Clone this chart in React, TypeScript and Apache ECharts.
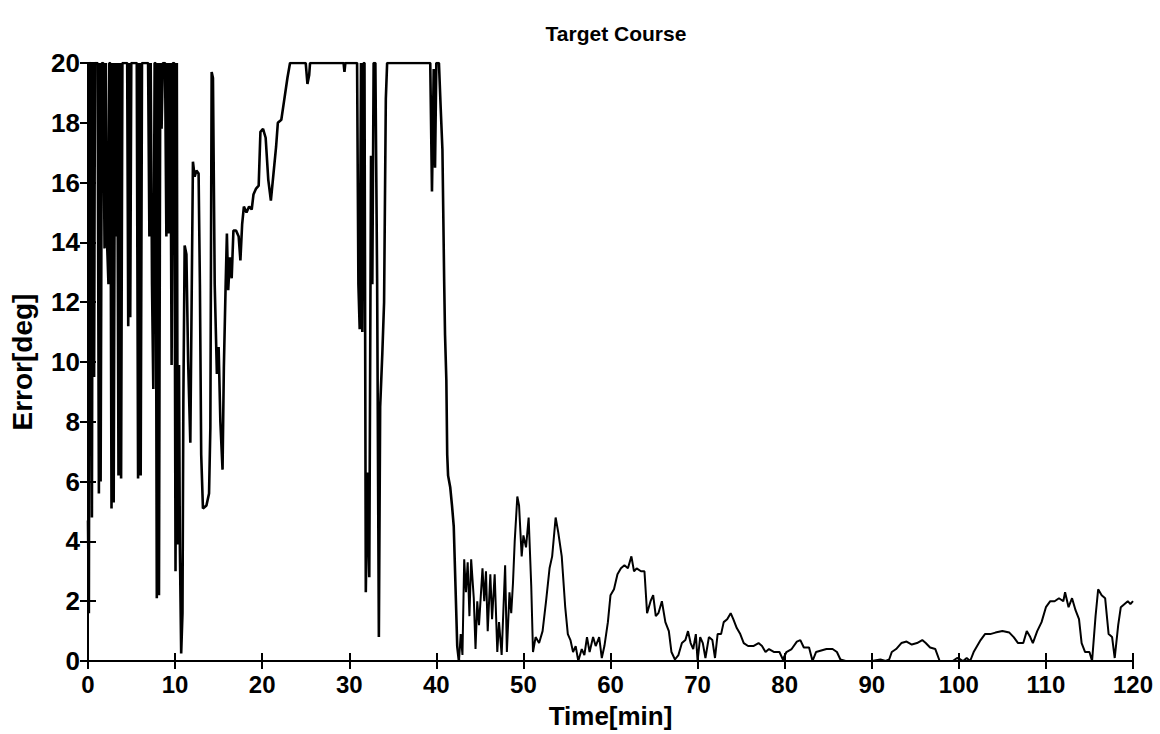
import React, { useEffect, useRef } from "react";
import * as echarts from "echarts";

// Time axis ticks [min] and error axis ticks [deg]
const timeTicks = [0, 10, 20, 30, 40, 50, 60, 70, 80, 90, 100, 110, 120];
const errorTicks = [0, 2, 4, 6, 8, 10, 12, 14, 16, 18, 20];

const chartTitle = "Target Course";
const xName = "Time[min]";
const yName = "Error[deg]";

// Heading error samples: [time (min), error (deg)] — saturated at 20
const transientSamples: [number, number][] = [
  [0, 4.7], [0.1, 1.6], [0.2, 20], [0.3, 20], [0.45, 4.8], [0.55, 20], [0.7, 9.5], [0.8, 20],
  [1.1, 20], [1.25, 5.6], [1.35, 20], [1.45, 6.0], [1.6, 20], [1.75, 20], [1.9, 13.8], [2.05, 20],
  [2.2, 13.9], [2.35, 12.6], [2.45, 20], [2.55, 20], [2.7, 5.1], [2.85, 20], [2.95, 5.3], [3.1, 20],
  [3.2, 14.2], [3.35, 20], [3.5, 6.2], [3.65, 20], [3.8, 6.1], [3.95, 20], [4.5, 20], [4.62, 11.2],
  [4.75, 20], [4.85, 11.5], [4.97, 20], [5.6, 20], [5.75, 6.1], [5.9, 20], [6.05, 6.2], [6.2, 20],
  [6.9, 20], [7.05, 14.2], [7.2, 20], [7.35, 12.6], [7.5, 9.1], [7.65, 20], [7.75, 20], [7.9, 2.1],
  [8.05, 20], [8.15, 2.2], [8.3, 20], [8.45, 17.8], [8.6, 20], [8.85, 20], [9.0, 14.2], [9.15, 20],
  [9.3, 14.3], [9.45, 20], [9.6, 9.9], [9.75, 20], [9.9, 20], [10.05, 3.0], [10.2, 20],
  [10.3, 3.9], [10.45, 9.9], [10.55, 3.8], [10.7, 0.25], [10.85, 1.6], [10.95, 8.7],
  [11.1, 13.9], [11.3, 13.6], [11.5, 10.0], [11.75, 7.3], [11.9, 12.0], [12.05, 16.7], [12.25, 16.2],
  [12.45, 16.4], [12.7, 16.3], [12.85, 12.6], [13.0, 6.9], [13.2, 5.1], [13.6, 5.2], [13.9, 5.6],
  [14.05, 7.8], [14.2, 19.7], [14.35, 19.5], [14.55, 12.6], [14.8, 9.6], [15.0, 10.5], [15.2, 8.0],
  [15.45, 6.4], [15.6, 9.8], [15.8, 12.5], [15.95, 14.3], [16.1, 12.4], [16.3, 13.5], [16.5, 12.8],
  [16.7, 14.4], [17.0, 14.4], [17.3, 14.2], [17.5, 13.4], [17.7, 14.6], [17.9, 15.2], [18.2, 15.0],
  [18.5, 15.2], [18.8, 15.1], [19.0, 15.6], [19.3, 15.8], [19.6, 15.9], [19.8, 17.7], [20.1, 17.8],
  [20.4, 17.5], [20.7, 16.1], [21.0, 15.4], [21.3, 16.3], [21.6, 17.2], [21.8, 18.0], [22.2, 18.1],
  [22.5, 18.7], [22.9, 19.5], [23.2, 20], [25.0, 20], [25.2, 19.3], [25.4, 19.6], [25.5, 20],
  [29.35, 20], [29.45, 19.7], [29.55, 20], [30.9, 20], [31.05, 12.6], [31.2, 11.1], [31.35, 20],
  [31.5, 11.0], [31.65, 20], [31.75, 20], [31.9, 2.3], [32.1, 6.3], [32.3, 2.8], [32.5, 16.9],
  [32.65, 12.6], [32.8, 20], [33.0, 20], [33.2, 12.8], [33.4, 0.8], [33.55, 8.5], [33.8, 10.3],
  [34.0, 12.0], [34.2, 18.8], [34.35, 20], [39.3, 20], [39.5, 15.7], [39.7, 19.8], [39.85, 16.5],
  [40.0, 20], [40.3, 20], [40.5, 18.5], [40.7, 17.1], [40.9, 12.7], [41.0, 10.9], [41.15, 9.4],
  [41.25, 6.9], [41.35, 6.2], [41.6, 5.8], [41.8, 5.2], [42.0, 4.5], [42.2, 2.5], [42.4, 0.5],
  [42.6, 0.0],
];

const settlingSamples: [number, number][] = [
  [42.6, 0.0], [42.8, 0.9], [43.0, 0.2], [43.2, 3.4], [43.4, 2.3], [43.6, 3.3], [43.8, 1.5], [44.0, 3.4],
  [44.3, 2.1], [44.5, 0.4], [44.7, 2.0], [44.9, 1.2], [45.3, 3.1], [45.5, 2.0], [45.7, 3.0],
  [45.9, 1.0], [46.2, 2.9], [46.4, 1.4], [46.7, 2.9], [47.0, 0.3], [47.2, 1.3], [47.5, 0.2],
  [47.9, 3.2], [48.1, 0.3], [48.4, 2.3], [48.6, 1.6], [48.8, 2.6], [49.0, 4.0], [49.3, 5.5],
  [49.5, 5.2], [49.8, 3.5], [50.0, 4.2], [50.3, 3.8], [50.6, 4.8], [50.9, 2.5], [51.1, 0.3],
  [51.4, 0.8], [51.8, 0.6], [52.2, 1.0], [52.6, 2.0], [53.0, 3.1], [53.3, 3.5], [53.7, 4.8],
  [54.0, 4.3], [54.4, 3.5], [54.8, 1.8], [55.1, 0.9], [55.4, 0.7], [55.7, 0.3], [56.0, 0.5],
  [56.3, 0.0], [56.7, 0.4], [57.0, 0.2], [57.3, 0.8], [57.6, 0.3], [58.0, 0.8], [58.3, 0.5],
  [58.7, 0.8], [59.0, 0.1], [59.3, 0.5], [59.7, 1.3], [60.0, 2.2], [60.4, 2.4], [60.8, 2.9],
  [61.2, 3.1], [61.6, 3.2], [62.0, 3.1], [62.4, 3.5], [62.7, 3.0], [63.0, 3.1], [63.5, 3.0],
  [63.9, 3.0], [64.2, 1.6], [64.6, 2.0], [64.9, 2.2], [65.2, 1.5], [65.5, 1.6], [65.9, 2.0],
  [66.3, 1.3], [66.7, 1.0], [67.0, 0.3], [67.4, 0.05], [67.8, 0.2], [68.2, 0.6], [68.6, 0.7],
  [68.9, 1.0], [69.2, 0.6], [69.5, 0.4], [69.8, 0.9], [70.0, 0.0], [70.3, 0.8], [70.6, 0.6],
  [70.9, 0.1], [71.3, 0.8], [71.7, 0.7], [72.0, 0.1], [72.3, 0.9], [72.7, 0.9], [73.0, 1.3],
  [73.4, 1.4], [73.8, 1.6], [74.1, 1.4], [74.5, 1.1], [74.9, 0.9], [75.3, 0.6], [75.8, 0.5],
  [76.4, 0.5], [77.0, 0.6], [77.4, 0.5], [77.8, 0.3], [78.2, 0.4], [78.8, 0.3], [79.4, 0.3],
  [79.8, 0.05], [80.2, 0.3], [80.8, 0.4], [81.4, 0.65], [81.8, 0.7], [82.2, 0.45], [82.8, 0.45],
  [83.2, 0.0], [83.6, 0.3], [84.2, 0.35], [84.8, 0.4], [85.5, 0.4], [86.0, 0.3], [86.4, 0.05],
  [87.0, 0.0], [88.0, 0.0], [89.0, 0.0], [90.0, 0.0], [91.0, 0.05], [91.6, 0.0], [92.0, 0.05],
  [92.3, 0.3], [92.8, 0.4], [93.4, 0.6], [94.0, 0.65], [94.6, 0.55], [95.2, 0.6], [95.8, 0.7],
  [96.2, 0.6], [96.7, 0.45], [97.3, 0.4], [97.8, 0.0], [98.5, 0.0], [99.3, 0.0], [99.8, 0.1],
  [100.2, 0.05], [100.5, 0.0], [100.9, 0.1], [101.3, 0.0], [101.7, 0.3], [102.1, 0.5],
  [102.5, 0.7], [103.0, 0.9], [103.6, 0.9], [104.2, 0.95], [105.0, 1.0], [105.8, 0.95],
  [106.3, 0.8], [106.8, 0.6], [107.4, 0.6], [107.8, 1.0], [108.2, 0.8], [108.5, 0.6],
  [109.0, 1.0], [109.5, 1.3], [110.0, 1.8], [110.5, 2.0], [111.0, 2.0], [111.5, 2.1],
  [112.0, 2.0], [112.2, 2.3], [112.6, 1.8], [113.0, 2.1], [113.4, 1.7], [113.8, 1.4],
  [114.1, 0.6], [114.5, 0.3], [115.0, 0.3], [115.3, 0.0], [115.7, 1.5], [116.0, 2.4],
  [116.4, 2.2], [116.8, 2.1], [117.2, 0.9], [117.6, 0.8], [117.9, 0.1], [118.3, 1.2],
  [118.6, 1.8], [119.0, 1.9], [119.4, 2.0], [119.7, 1.9], [120.0, 2.0],
];

const FONT = "'Liberation Sans', Arial, Helvetica, sans-serif";

export default function App() {
  const ref = useRef<HTMLDivElement>(null);

  useEffect(() => {
    if (!ref.current) return;
    const chart = echarts.init(ref.current, null, { renderer: "svg" });
    const xMin = timeTicks[0];
    const xMax = timeTicks[timeTicks.length - 1];
    const xStep = timeTicks[1] - timeTicks[0];
    const yMin = errorTicks[0];
    const yMax = errorTicks[errorTicks.length - 1];
    const yStep = errorTicks[1] - errorTicks[0];

    const axisLine = { show: true, lineStyle: { color: "#000", width: 2 } };
    const tick = { show: true, inside: true, length: 8, lineStyle: { color: "#000", width: 2 } };

    chart.setOption({
      animation: false,
      backgroundColor: "#ffffff",
      title: {
        text: chartTitle,
        left: 611,
        top: 18,
        textAlign: "center",
        textStyle: { fontFamily: FONT, fontWeight: "bold", fontSize: 21, color: "#000" },
      },
      grid: { left: 88, right: 27, top: 63, bottom: 71, containLabel: false },
      xAxis: [
        {
          type: "value",
          position: "bottom",
          min: xMin,
          max: xMax,
          interval: xStep,
          name: xName,
          nameLocation: "middle",
          nameGap: 42,
          nameTextStyle: { fontFamily: FONT, fontWeight: "bold", fontSize: 26, color: "#000" },
          axisLine,
          axisTick: tick,
          axisLabel: { fontFamily: FONT, fontWeight: "bold", fontSize: 24, color: "#000", margin: 11 },
          splitLine: { show: false },
        },
        {
          type: "value",
          position: "top",
          min: xMin,
          max: xMax,
          interval: xStep,
          axisLine,
          axisTick: tick,
          axisLabel: { show: false },
          splitLine: { show: false },
        },
      ],
      yAxis: [
        {
          type: "value",
          position: "left",
          min: yMin,
          max: yMax,
          interval: yStep,
          name: yName,
          nameLocation: "middle",
          nameGap: 52,
          nameTextStyle: { fontFamily: FONT, fontWeight: "bold", fontSize: 28, color: "#000" },
          axisLine,
          axisTick: tick,
          axisLabel: { fontFamily: FONT, fontWeight: "bold", fontSize: 26, color: "#000", margin: 8 },
          splitLine: { show: false },
        },
        {
          type: "value",
          position: "right",
          min: yMin,
          max: yMax,
          interval: yStep,
          axisLine,
          axisTick: tick,
          axisLabel: { show: false },
          splitLine: { show: false },
        },
      ],
      series: [
        {
          type: "line",
          xAxisIndex: 0,
          yAxisIndex: 0,
          data: transientSamples,
          showSymbol: false,
          symbol: "none",
          clip: true,
          lineStyle: { color: "#000", width: 2.6 },
        },
        {
          type: "line",
          xAxisIndex: 0,
          yAxisIndex: 0,
          data: settlingSamples,
          showSymbol: false,
          symbol: "none",
          clip: true,
          lineStyle: { color: "#000", width: 2 },
        },
      ],
    });

    return () => chart.dispose();
  }, []);

  return (
    <div
      ref={ref}
      style={{ position: "absolute", left: 0, top: 0, width: 1160, height: 734 }}
    />
  );
}
